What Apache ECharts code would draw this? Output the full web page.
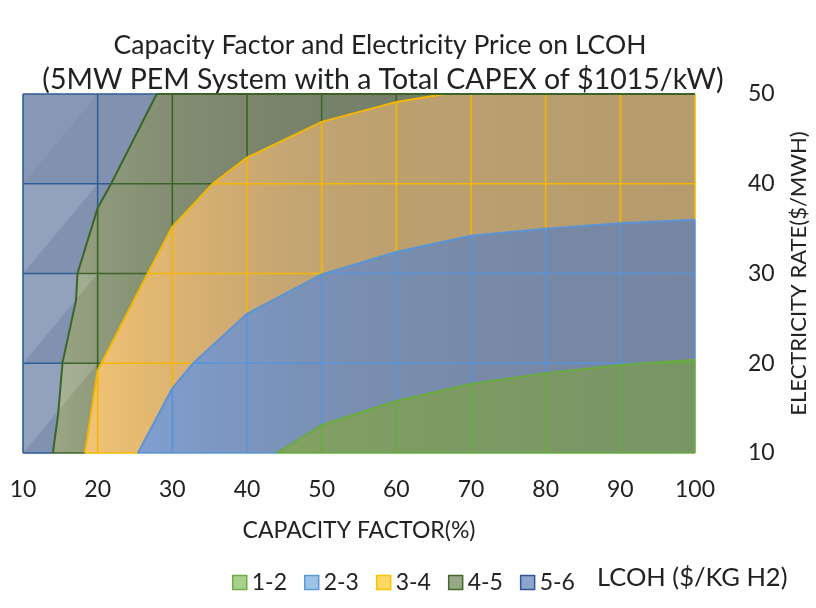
<!DOCTYPE html>
<html><head><meta charset="utf-8">
<script src="https://cdn.jsdelivr.net/npm/echarts@6/dist/echarts.min.js"></script>
<style>html,body{margin:0;padding:0;background:#fff}#c{width:816px;height:608px}</style>
</head><body><div id="c"></div>
<script>
// ---- data ----
const xTicks = [10, 20, 30, 40, 50, 60, 70, 80, 90, 100];   // capacity factor (%)
const yTicks = [10, 20, 30, 40, 50];                          // electricity rate ($/MWh)
const bandNames = ['1-2', '2-3', '3-4', '4-5', '5-6'];         // LCOH ($/kg H2)
const titleLines = ['Capacity Factor and Electricity Price on LCOH', '(5MW PEM System with a Total CAPEX of $1015/kW)'];
// upper edge of each LCOH band: [capacity factor, electricity rate]
const edge56 = [[10, 50], [100, 50]];
const edge45 = [[14.0, 10], [14.7, 14.3], [15.3, 20.1], [17.1, 27], [17.3, 30], [20, 37.3], [21.8, 40], [27.9, 50], [100, 50]];
const edge34 = [[18.3, 10], [20, 19.2], [20.5, 20], [26.7, 30], [30, 35.2], [35.4, 40], [40, 42.9], [50, 46.9], [60, 49.1], [66.5, 50], [100, 50]];
const edge23 = [[25.4, 10], [30, 17.2], [32.8, 20], [40, 25.5], [50, 29.9], [60, 32.4], [70, 34.2], [80, 35], [90, 35.6], [100, 36]];
const edge12 = [[44, 10], [50, 13.1], [60, 15.8], [70, 17.7], [80, 18.9], [90, 19.8], [100, 20.4]];
const edges = [edge12, edge23, edge34, edge45, edge56];

// ---- styles ----
const meshColors = ['#6aab3e', '#5b94d6', '#f2b705', '#3d6428', '#2f5d96'];
const legendFill = ['#a9d18e', '#9dc3e6', '#ffd966', '#97a885', '#8ea4ca'];
const legendBorder = ['#70ad47', '#5b9bd5', '#ffc000', '#43682b', '#2f5597'];
const fillStops = [
  [[44, '#82a262'], [60, '#7f9c64'], [100, '#799466']],
  [[25, '#80a0d0'], [35, '#7d98c4'], [50, '#7a90b4'], [70, '#788aa8'], [100, '#7686a2']],
  [[18, '#f2c476'], [25, '#e6ba72'], [35, '#d4ae72'], [45, '#c6a672'], [60, '#bca070'], [100, '#b59b6d']],
  [[14, '#9aa686'], [20, '#8e9a7a'], [30, '#828d72'], [45, '#78836b'], [66, '#737d68']],
  [[10, '#8192b1'], [100, '#8192b1']]
];
const XMIN = 10, XMAX = 100, YMIN = 10, YMAX = 50;
const FONT = 'Lato', TXT = '#222222';

function yAt(edge, x) {
  if (x < edge[0][0]) return null;
  for (let i = 0; i < edge.length - 1; i++) {
    const a = edge[i], b = edge[i + 1];
    if (x >= a[0] && x <= b[0]) {
      if (b[0] === a[0]) return b[1];
      return a[1] + (b[1] - a[1]) * (x - a[0]) / (b[0] - a[0]);
    }
  }
  return edge[edge.length - 1][1];
}
function xAt(edge, y) {
  if (y <= edge[0][1]) return edge[0][0];
  for (let i = 0; i < edge.length - 1; i++) {
    const a = edge[i], b = edge[i + 1];
    if (y >= a[1] && y <= b[1] && b[1] !== a[1]) {
      return a[0] + (b[0] - a[0]) * (y - a[1]) / (b[1] - a[1]);
    }
  }
  return null;
}
function gradient(api, stops) {
  const x0 = api.coord([XMIN, YMIN])[0], x1 = api.coord([XMAX, YMIN])[0];
  return new echarts.graphic.LinearGradient(x0, 0, x1, 0,
    stops.map(s => ({ offset: (s[0] - XMIN) / (XMAX - XMIN), color: s[1] })), true);
}

const series = [];
for (let k = 4; k >= 0; k--) {
  const edge = edges[k];
  series.push({
    type: 'custom', name: bandNames[k], coordinateSystem: 'cartesian2d',
    data: [[XMIN, YMIN]], z: 2 + (4 - k), silent: true, animation: false,
    itemStyle: { color: legendFill[k], borderColor: legendBorder[k], borderWidth: 1.5 },
    renderItem: (params, api) => {
      const pts = edge.concat([[XMAX, YMIN], [edge[0][0], YMIN]]).map(p => api.coord(p));
      return { type: 'polygon', shape: { points: pts }, style: { fill: gradient(api, fillStops[k]) } };
    }
  });
}
series.push({
  type: 'custom', coordinateSystem: 'cartesian2d', data: [[XMIN, YMIN]], z: 8, silent: true, animation: false,
  renderItem: (params, api) => {
    const children = [];
    for (let j = 0; j < yTicks.length - 1; j++) {
      const y0 = yTicks[j], y1 = yTicks[j + 1];
      children.push({
        type: 'polygon',
        shape: { points: [api.coord([xTicks[0], y0]), api.coord([xTicks[0], y1]), api.coord([xTicks[1], y1])] },
        style: { fill: 'rgba(255,255,255,' + (j === 3 ? 0.05 : 0.15) + ')' }
      });
    }
    return { type: 'group', children };
  }
});
series.push({
  type: 'custom', coordinateSystem: 'cartesian2d', data: [[XMIN, YMIN]], z: 9, silent: true, animation: false,
  renderItem: (params, api) => {
    const children = [];
    for (let k = 0; k < 5; k++) {
      const up = edges[k], lo = k > 0 ? edges[k - 1] : null;
      const st = { stroke: meshColors[k], lineWidth: 1.6 };
      xTicks.forEach(c => {
        const top = yAt(up, c);
        if (top === null) return;
        let bot = YMIN;
        if (lo) { const v = yAt(lo, c); if (v !== null) bot = Math.max(YMIN, v); }
        if (top > bot) {
          const a = api.coord([c, bot]), b = api.coord([c, top]);
          children.push({ type: 'line', shape: { x1: a[0], y1: a[1], x2: b[0], y2: b[1] }, style: st });
        }
      });
      yTicks.forEach(c => {
        const left = xAt(up, c);
        if (left === null) return;
        let right = XMAX;
        if (lo) { const v = xAt(lo, c); if (v !== null) right = Math.min(XMAX, v); }
        if (right > left) {
          const a = api.coord([left, c]), b = api.coord([right, c]);
          children.push({ type: 'line', shape: { x1: a[0], y1: a[1], x2: b[0], y2: b[1] }, style: st });
        }
      });
    }
    for (let k = 0; k < 4; k++) {
      children.push({
        type: 'polyline', shape: { points: edges[k].map(p => api.coord(p)) },
        style: { stroke: meshColors[k], lineWidth: 2, fill: null }
      });
    }
    return { type: 'group', children };
  }
});

const chart = echarts.init(document.getElementById('c'), null, { renderer: 'canvas' });
chart.setOption({
  animation: false,
  backgroundColor: '#ffffff',
  grid: { left: 23, top: 94, width: 672, height: 359, outerBoundsMode: 'none', containLabel: false },
  xAxis: {
    type: 'value', min: XMIN, max: XMAX, interval: 10,
    axisLine: { show: false }, axisTick: { show: false }, splitLine: { show: false },
    axisLabel: { fontFamily: FONT, fontSize: 23, color: TXT, margin: 25 },
    name: 'CAPACITY FACTOR(%)', nameLocation: 'middle', nameGap: 66,
    nameTextStyle: { fontFamily: FONT, fontSize: 23, color: TXT }
  },
  yAxis: {
    type: 'value', position: 'right', min: YMIN, max: YMAX, interval: 10,
    axisLine: { show: false }, axisTick: { show: false }, splitLine: { show: false },
    axisLabel: { fontFamily: FONT, fontSize: 23, color: TXT, margin: 53 },
    name: 'ELECTRICITY RATE($/MWH)', nameLocation: 'middle', nameGap: 93, nameRotate: 90,
    nameTextStyle: { fontFamily: FONT, fontSize: 22, color: TXT }
  },
  legend: {
    left: 227, top: 566, itemWidth: 14, itemHeight: 14, itemGap: 17, icon: 'rect',
    textStyle: { fontFamily: FONT, fontSize: 23, color: TXT },
    data: bandNames.map((n, k) => ({ name: n, itemStyle: { color: legendFill[k], borderColor: legendBorder[k], borderWidth: 1.5 } }))
  },
  graphic: [
    { type: 'text', x: 380, y: 45, style: { text: titleLines[0], fontFamily: FONT, fontSize: 26.5, fill: TXT, align: 'center', verticalAlign: 'middle' } },
    { type: 'text', x: 383, y: 80, style: { text: titleLines[1], fontFamily: FONT, fontSize: 28.5, fill: TXT, align: 'center', verticalAlign: 'middle' } },
    { type: 'text', x: 597, y: 578, style: { text: 'LCOH ($/KG H2)', fontFamily: FONT, fontSize: 25.5, fill: TXT, align: 'left', verticalAlign: 'middle' } }
  ],
  series
});
</script></body></html>
